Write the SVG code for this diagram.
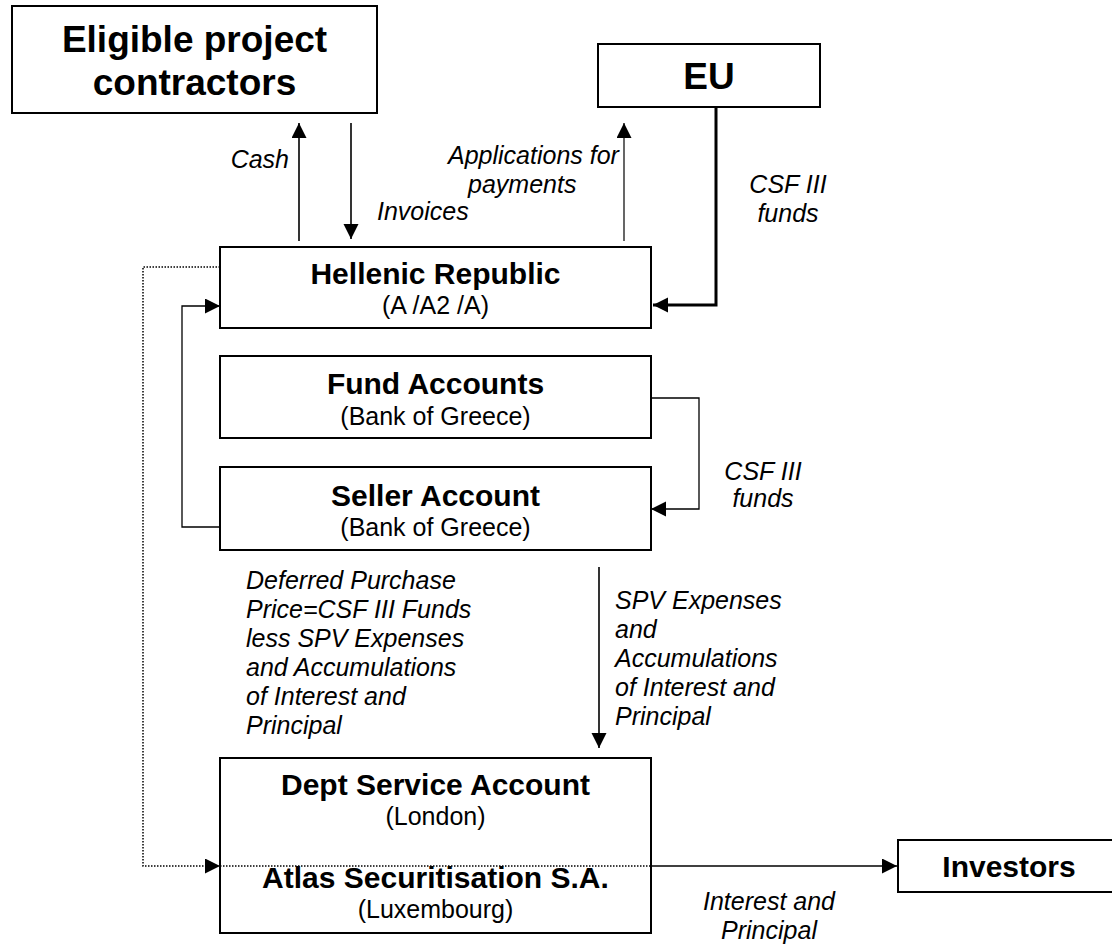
<svg xmlns="http://www.w3.org/2000/svg" width="1112" height="951" viewBox="0 0 1112 951">
  <style>
    .box { fill: #fff; stroke: #000; stroke-width: 2; }
    .title { font-family: "Liberation Sans", Arial, sans-serif; font-weight: bold; font-size: 30px; fill: #000; text-anchor: middle; }
    .big { font-size: 37px; }
    .sub { font-family: "Liberation Sans", Arial, sans-serif; font-size: 25px; fill: #000; text-anchor: middle; }
    .lbl { font-family: "Liberation Sans", Arial, sans-serif; font-style: italic; font-size: 25px; fill: #000; }
    .mid { text-anchor: middle; }
    .end { text-anchor: end; }
    .wire { fill: none; stroke: #000; stroke-width: 1.6; }
    .dot { fill: none; stroke: #000; stroke-width: 1.5; stroke-dasharray: 1.5 1.5; }
  </style>
  <defs>
    <marker id="arrow" markerUnits="userSpaceOnUse" markerWidth="16" markerHeight="16" refX="15" refY="7.5" orient="auto">
      <path d="M0,0 L15,7.5 L0,15 z" fill="#000"/>
    </marker>
  </defs>

  <rect width="1112" height="951" fill="#fff"/>

  <!-- connectors -->
  <g id="connectors">
    <path class="wire" d="M299,241 V123" marker-end="url(#arrow)"/>
    <path class="wire" d="M351,123 V239" marker-end="url(#arrow)"/>
    <path class="wire" style="stroke-width:1.2" d="M624,241 V123" marker-end="url(#arrow)"/>
    <path class="wire" style="stroke-width:3" d="M716,107 V305 H653" marker-end="url(#arrow)"/>
    <path class="wire" style="stroke-width:1.3" d="M220,527 H182 V306 H220" marker-end="url(#arrow)"/>
    <path class="wire" style="stroke-width:1.3" d="M651,398 H699 V509 H651" marker-end="url(#arrow)"/>
    <path class="wire" d="M599,567 V748" marker-end="url(#arrow)"/>
    <path class="dot" d="M220,267 H143 V866 H220" marker-end="url(#arrow)"/>
    <path class="wire" d="M651,866 H897" marker-end="url(#arrow)"/>
  </g>

  <!-- nodes -->
  <g id="contractors">
    <rect class="box" x="12" y="6" width="365" height="107"/>
    <text class="title big" x="194.5" y="52">Eligible project</text>
    <text class="title big" x="194.5" y="95">contractors</text>
  </g>

  <g id="eu">
    <rect class="box" x="598" y="44" width="222" height="63"/>
    <text class="title big" x="709" y="89">EU</text>
  </g>

  <g id="hellenic-republic">
    <rect class="box" x="220" y="247" width="431" height="81"/>
    <text class="title" x="435.5" y="284">Hellenic Republic</text>
    <text class="sub" x="435.5" y="314">(A /A2 /A)</text>
  </g>

  <g id="fund-accounts">
    <rect class="box" x="220" y="356" width="431" height="82"/>
    <text class="title" x="435.5" y="394">Fund Accounts</text>
    <text class="sub" x="435.5" y="425">(Bank of Greece)</text>
  </g>

  <g id="seller-account">
    <rect class="box" x="220" y="467" width="431" height="83"/>
    <text class="title" x="435.5" y="506">Seller Account</text>
    <text class="sub" x="435.5" y="536">(Bank of Greece)</text>
  </g>

  <g id="dept-service-account">
    <rect class="box" x="220" y="758" width="431" height="175"/>
    <path class="dot" d="M220,866 H651"/>
    <text class="title" x="435.5" y="795">Dept Service Account</text>
    <text class="sub" x="435.5" y="825">(London)</text>
    <text class="title" x="435.5" y="888">Atlas Securitisation S.A.</text>
    <text class="sub" x="435.5" y="918">(Luxembourg)</text>
  </g>

  <g id="investors">
    <rect class="box" x="898" y="840" width="222" height="52"/>
    <text class="title" x="1009" y="877">Investors</text>
  </g>

  <!-- flow labels -->
  <g id="labels">
    <text class="lbl end" x="289" y="168">Cash</text>
    <text class="lbl" x="377" y="220">Invoices</text>
    <text class="lbl" x="448" y="164">Applications for</text>
    <text class="lbl" x="468" y="193">payments</text>
    <text class="lbl mid" x="788" y="193">CSF III</text>
    <text class="lbl mid" x="788" y="222">funds</text>
    <text class="lbl mid" x="763" y="480">CSF III</text>
    <text class="lbl mid" x="763" y="507">funds</text>
    <text class="lbl" x="246" y="589">Deferred Purchase</text>
    <text class="lbl" x="246" y="618">Price=CSF III Funds</text>
    <text class="lbl" x="246" y="647">less SPV Expenses</text>
    <text class="lbl" x="246" y="676">and Accumulations</text>
    <text class="lbl" x="246" y="705">of Interest and</text>
    <text class="lbl" x="246" y="734">Principal</text>
    <text class="lbl" x="615" y="609">SPV Expenses</text>
    <text class="lbl" x="615" y="638">and</text>
    <text class="lbl" x="615" y="667">Accumulations</text>
    <text class="lbl" x="615" y="696">of Interest and</text>
    <text class="lbl" x="615" y="725">Principal</text>
    <text class="lbl mid" x="769" y="910">Interest and</text>
    <text class="lbl mid" x="769" y="939">Principal</text>
  </g>
</svg>
